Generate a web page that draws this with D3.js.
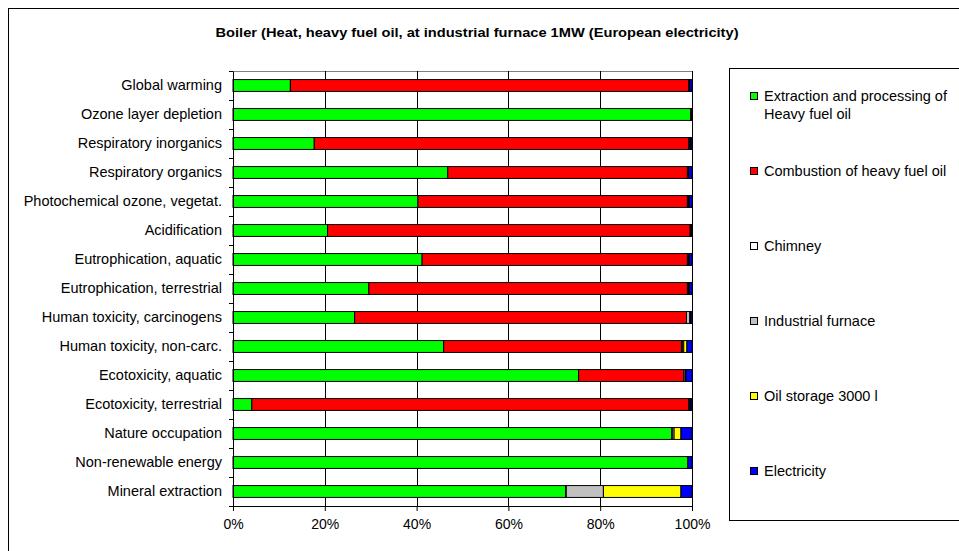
<!DOCTYPE html>
<html>
<head>
<meta charset="utf-8">
<script src="https://cdn.jsdelivr.net/npm/d3@7"></script>
<style>
  body { margin: 0; background: #fff; }
  svg { display: block; font-family: "Liberation Sans", Arial, sans-serif; }
</style>
</head>
<body>
<div id="chart"></div>
<script>
const CATEGORIES = ['Global warming', 'Ozone layer depletion', 'Respiratory inorganics',
                    'Respiratory organics', 'Photochemical ozone, vegetat.', 'Acidification',
                    'Eutrophication, aquatic', 'Eutrophication, terrestrial',
                    'Human toxicity, carcinogens', 'Human toxicity, non-carc.',
                    'Ecotoxicity, aquatic', 'Ecotoxicity, terrestrial', 'Nature occupation',
                    'Non-renewable energy', 'Mineral extraction'];
const SERIES_NAMES = ['Extraction and processing of Heavy fuel oil', 'Combustion of heavy fuel oil',
                      'Chimney', 'Industrial furnace', 'Oil storage 3000 l', 'Electricity'];
const SERIES_COLOURS = ['#00FF00', '#FF0000', '#FFFFFF', '#C0C0C0', '#FFFF00', '#0000FF'];

// percent shares, one entry per category
const extraction  = [12.5, 99.7, 17.7, 46.8, 40.3, 20.6, 41.2, 29.6, 26.5, 45.9, 75.3, 4.1, 95.6, 99.1, 72.5];
const combustion  = [86.8, 0.1, 81.6, 52.2, 58.7, 79.0, 57.8, 69.4, 72.3, 51.8, 22.9, 95.2, 0.1, 0.0, 0.1];
const chimney     = [0.0, 0.0, 0.0, 0.0, 0.0, 0.0, 0.0, 0.0, 0.0, 0.2, 0.0, 0.0, 0.0, 0.0, 0.0];
const furnace     = [0.1, 0.1, 0.2, 0.1, 0.2, 0.2, 0.2, 0.2, 0.7, 0.3, 0.3, 0.2, 0.4, 0.0, 8.1];
const oilStorage  = [0.1, 0.1, 0.2, 0.2, 0.2, 0.1, 0.2, 0.2, 0.2, 0.7, 0.2, 0.2, 1.5, 0.0, 16.9];
const electricity = [0.5, 0.0, 0.3, 0.7, 0.6, 0.1, 0.6, 0.6, 0.3, 1.1, 1.3, 0.3, 2.4, 0.9, 2.4];
const X_TICKS = [0, 20, 40, 60, 80, 100];

const TITLE = 'Boiler (Heat, heavy fuel oil, at industrial furnace 1MW (European electricity)';

var W = 959, H = 551;
var margin = {top: 71, left: 233, right: 267, bottom: 45};
var width = W - margin.left - margin.right;
var height = H - margin.top - margin.bottom;

var svg = d3.select('#chart').append('svg')
    .attr('width', W)
    .attr('height', H);

// outer frame (runs off the right and bottom edge)
svg.append('rect')
    .attr('x', 8.5).attr('y', 8.5)
    .attr('width', 980).attr('height', 580)
    .attr('fill', 'none').attr('stroke', '#000');

svg.append('text')
    .attr('x', 477).attr('y', 37)
    .attr('text-anchor', 'middle')
    .attr('font-weight', 'bold')
    .attr('font-size', 12)
    .attr('textLength', 523)
    .attr('lengthAdjust', 'spacingAndGlyphs')
    .text(TITLE);

// build table for the stack
var seriesArrays = [extraction, combustion, chimney, furnace, oilStorage, electricity];
var table = CATEGORIES.map(function(c, i) {
  var row = {cat: c};
  SERIES_NAMES.forEach(function(s, j) { row[s] = seriesArrays[j][i]; });
  return row;
});
var stacked = d3.stack().keys(SERIES_NAMES)(table);

var g = svg.append('g')
    .attr('transform', 'translate(' + margin.left + ',' + margin.top + ')');

var x = d3.scaleLinear().domain([0, 100]).range([0, width]);
var y = d3.scaleBand().domain(CATEGORIES).range([0, height]).paddingInner(0.59).paddingOuter(0.295);

// plot border top
g.append('line')
    .attr('x1', 0).attr('x2', width).attr('y1', 0.5).attr('y2', 0.5)
    .attr('stroke', '#808080');

// grid lines
g.append('g')
  .selectAll('line')
  .data(X_TICKS.slice(1))
  .enter().append('line')
    .attr('x1', function(d) { return Math.round(x(d)) + 0.5; })
    .attr('x2', function(d) { return Math.round(x(d)) + 0.5; })
    .attr('y1', 0).attr('y2', height)
    .attr('stroke', '#000');

// bars
g.append('g')
  .selectAll('g')
  .data(stacked)
  .enter().append('g')
    .attr('fill', function(d, i) { return SERIES_COLOURS[i]; })
  .selectAll('rect')
  .data(function(d) { return d.filter(function(p) { return p[1] - p[0] > 0; }); })
  .enter().append('rect')
    .attr('x', function(d) { return x(d[0]); })
    .attr('y', function(d) { return y(d.data.cat); })
    .attr('width', function(d) { return x(d[1]) - x(d[0]); })
    .attr('height', y.bandwidth())
    .attr('stroke', '#000')
    .attr('stroke-width', 1);

// x axis
var xAxis = g.append('g')
    .attr('transform', 'translate(0,' + height + ')')
    .call(d3.axisBottom(x).tickValues(X_TICKS).tickSize(5).tickPadding(8)
          .tickFormat(function(d) { return d + '%'; }));
xAxis.select('.domain').attr('stroke', '#000');
xAxis.selectAll('text').attr('font-size', 14).attr('font-family', null).attr('fill', '#000');

// y axis, labels at band centres
var yAxis = g.append('g')
    .call(d3.axisLeft(y).tickSize(0).tickPadding(11));
yAxis.selectAll('text').attr('font-size', 14.5).attr('font-family', null).attr('fill', '#000');
yAxis.select('.domain').attr('stroke', '#000');

// y ticks between categories
g.append('g')
  .selectAll('line')
  .data(d3.range(CATEGORIES.length + 1))
  .enter().append('line')
    .attr('x1', -4).attr('x2', 0)
    .attr('y1', function(i) { return Math.round(i * y.step()) + 0.5; })
    .attr('y2', function(i) { return Math.round(i * y.step()) + 0.5; })
    .attr('stroke', '#000');

// legend
var legend = svg.append('g');
legend.append('rect')
    .attr('x', 729.5).attr('y', 68.5)
    .attr('width', 300).attr('height', 452)
    .attr('fill', 'none').attr('stroke', '#000');

var legendItems = legend.selectAll('g.item')
  .data(SERIES_NAMES)
  .enter().append('g')
    .attr('class', 'item')
    .attr('transform', function(d, i) { return 'translate(750,' + (96 + i * 75) + ')'; });

legendItems.append('rect')
    .attr('x', 0.5).attr('y', -3.5)
    .attr('width', 7).attr('height', 7)
    .attr('fill', function(d, i) { return SERIES_COLOURS[i]; })
    .attr('stroke', '#000');

legendItems.append('text')
    .attr('x', 14)
    .attr('font-size', 14.5)
    .each(function(d) {
      var t = d3.select(this);
      var parts = d.indexOf('Heavy') > 0 ? ['Extraction and processing of', 'Heavy fuel oil'] : [d];
      parts.forEach(function(p, k) {
        t.append('tspan').attr('x', 14).attr('dy', k == 0 ? '0.35em' : '18px').text(p);
      });
    });
</script>
</body>
</html>
